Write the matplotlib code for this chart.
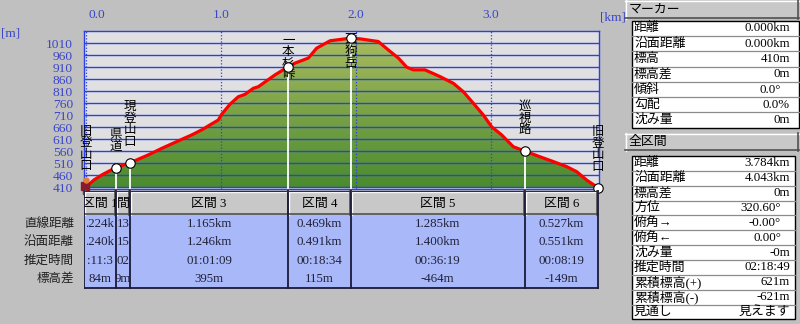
import numpy as np
import matplotlib
matplotlib.use("Agg")
import matplotlib.pyplot as plt
from matplotlib import transforms
from matplotlib.transforms import Bbox, TransformedBbox
from matplotlib.colors import LinearSegmentedColormap
from matplotlib.patches import Rectangle, PathPatch

plt.rcParams["font.family"] = ["Liberation Serif", "Noto Sans CJK JP"]

# 断面プロファイル（水平距離 km / 標高 m）
DIST = [0.000, 0.060, 0.118, 0.222, 0.328, 0.464, 0.563, 0.661, 0.785, 0.859,
        0.921, 0.982, 1.007, 1.069, 1.130, 1.180, 1.241, 1.279, 1.402, 1.500,
        1.550, 1.649, 1.710, 1.810, 1.921, 1.962, 2.032, 2.167, 2.241, 2.316,
        2.378, 2.427, 2.513, 2.624, 2.723, 2.797, 2.871, 2.945, 3.007, 3.081,
        3.167, 3.252, 3.365, 3.464, 3.563, 3.637, 3.711, 3.795]
ELEV = [410, 440, 461, 492, 512, 545, 572, 597, 628, 649,
        670, 690, 714, 756, 787, 797, 822, 829, 878, 912,
        927, 948, 989, 1020, 1028, 1031, 1028, 1017, 982, 948,
        910, 899, 899, 871, 843, 808, 760, 711, 662, 628,
        579, 561, 537, 517, 496, 475, 440, 408]

MARKER_DIST = [0.000, 0.222, 0.328, 1.500, 1.962, 3.252, 3.795]
MARKER_NAMES = ["旧登山口", "県道", "現登山口", "一本杉峠", "天狗岳", "巡視路", "旧登山口"]

X_TICKS = [0, 1, 2, 3]
X_TICK_LABELS = ["0.0", "1.0", "2.0", "3.0"]
Y_TICKS = list(range(410, 1011, 50))

# 区間 1, 2 はセル幅が狭く、見えている部分のみ
SECTIONS = ["区間 1", "間", "区間 3", "区間 4", "区間 5", "区間 6"]
ROW_LABELS = ["直線距離", "沿面距離", "推定時間", "標高差"]
SEC_STRAIGHT = [".224k", "13", "1.165km", "0.469km", "1.285km", "0.527km"]
SEC_SURFACE = [".240k", "15", "1.246km", "0.491km", "1.400km", "0.551km"]
SEC_TIME = [":11:3", "02", "01:01:09", "00:18:34", "00:36:19", "00:08:19"]
SEC_DIFF = ["84m", "9m", "395m", "115m", "-464m", "-149m"]

MARKER_LABELS = ["距離", "沿面距離", "標高", "標高差", "傾斜", "勾配", "沈み量"]
MARKER_VALUES = ["0.000km", "0.000km", "410m", "0m", "0.0°", "0.0%", "0m"]
TOTAL_LABELS = ["距離", "沿面距離", "標高差", "方位", "俯角→", "俯角←", "沈み量",
                "推定時間", "累積標高(+)", "累積標高(-)", "見通し"]
TOTAL_VALUES = ["3.784km", "4.043km", "0m", "320.60°", "-0.00°", "0.00°", "-0m",
                "02:18:49", "621m", "-621m", "見えます"]

W, H = 800, 324
WIN_BG = "#c0c0c0"
PLOT_BG = "#e0e0e0"
GRID = "#2a40e6"
AXIS_TXT = "#3a46c8"
CELL_BLUE = "#a8b8f8"
CELL_TXT = "#202038"
FS = 9.3

fig = plt.figure(figsize=(W / 100, H / 100), dpi=100)
fig.patch.set_facecolor(WIN_BG)


def frac(x0, y0, x1, y1):
    # ピクセル座標（左上原点）→ figure 座標
    return [x0 / W, 1 - y1 / H, (x1 - x0) / W, (y1 - y0) / H]


# UI 用の全面 axes（ピクセル座標）
ui = fig.add_axes([0, 0, 1, 1])
ui.set_xlim(0, W)
ui.set_ylim(H, 0)
ui.axis("off")


def button(a, x0, y0, x1, y1, sx=1.0):
    # sx: x 方向 1px あたりのデータ量
    a.add_patch(Rectangle((x0, y0), x1 - x0, y1 - y0, fc="#c8c8c8", ec="none", zorder=2))
    a.plot([x0, x1], [y0 + 0.8, y0 + 0.8], color="white", lw=1, zorder=3)
    a.plot([x0 + 1.2 * sx, x0 + 1.2 * sx], [y0, y1], color="white", lw=1, zorder=3)
    a.plot([x0, x1], [y1 - 0.7, y1 - 0.7], color="#505050", lw=1.2, zorder=3)
    a.plot([x1 - 0.7 * sx, x1 - 0.7 * sx], [y0, y1], color="#505050", lw=1.2, zorder=3)


# --- プロファイル ---
ax = fig.add_axes(frac(84, 30.7, 599, 188.5))
xl = (-0.0127, 3.802)
yl = (405, 1062)
ax.set_xlim(*xl)
ax.set_ylim(*yl)
ax.set_facecolor(PLOT_BG)

poly = ax.fill_between(DIST, ELEV, yl[0], color="none", lw=0)
cmap = LinearSegmentedColormap.from_list("g", ["#4a8a2e", "#adbe60"])
grad = np.linspace(0, 1, 256).reshape(-1, 1)
im = ax.imshow(grad, extent=[xl[0], xl[1], yl[0], yl[1]], origin="lower",
               aspect="auto", cmap=cmap, zorder=0.5)
clip = PathPatch(poly.get_paths()[0], transform=ax.transData, fc="none", ec="none")
ax.add_patch(clip)
im.set_clip_path(clip)

ax.set_axisbelow(False)
ax.set_yticks(Y_TICKS)
ax.set_xticks(X_TICKS)
ax.set_xticklabels(X_TICK_LABELS)
ax.yaxis.grid(True, color=GRID, lw=1.0)
ax.xaxis.grid(True, color=GRID, lw=0.9, ls=(0, (1, 1.5)))
ax.tick_params(axis="y", length=0, pad=8, labelsize=9.7, labelcolor=AXIS_TXT)
ax.tick_params(axis="x", length=0, pad=7, labelsize=9.6, labelcolor=AXIS_TXT,
               top=True, labeltop=True, bottom=False, labelbottom=False)
lbl0 = ax.get_xticklabels()[0]
lbl0.set_ha("left")
lbl0.set_transform(lbl0.get_transform() + transforms.Affine2D().translate(3, 0))
for s in ax.spines.values():
    s.set_color(GRID)
    s.set_linewidth(1.0)

mk_elev = np.interp(MARKER_DIST, DIST, ELEV)
for d, e in zip(MARKER_DIST[1:-1], mk_elev[1:-1]):
    ax.plot([d, d], [yl[0], e], color="white", lw=1.3, zorder=2.7)

ax.plot(DIST, ELEV, color="#ff0000", lw=2.3, zorder=3, solid_joinstyle="round")
ax.plot(MARKER_DIST[1:], mk_elev[1:], "o", ms=6.8, mfc="white", mec="black",
        mew=0.8, zorder=4, clip_on=False)


def off(dx, dy):
    return transforms.offset_copy(ax.transData, fig=fig, x=dx, y=dy, units="dots")


# ハイカーのアイコン（始点）
x0, e0 = MARKER_DIST[0], mk_elev[0]
ax.plot([x0], [e0], "s", ms=3.2, color="#604020", transform=off(-1, -5), clip_on=False, zorder=5)
ax.plot([x0], [e0], "s", ms=5.5, color="#8b1a2a", transform=off(-1, 1), clip_on=False, zorder=5)
ax.plot([x0], [e0], "o", ms=3.6, color="#e08040", transform=off(0, 7), clip_on=False, zorder=5)

# 地点名（縦書き）
top_tr = transforms.blended_transform_factory(ax.transData, ax.transAxes)
for name, d, e in zip(MARKER_NAMES, MARKER_DIST, mk_elev):
    s = "\n".join(name)
    if e > 850:
        ax.text(d, 1 - 4 / 157.8, s, transform=top_tr, ha="center", va="top",
                fontsize=9, linespacing=0.95, color="black", zorder=3.5, clip_on=False)
    else:
        ax.text(d, e, s, transform=off(0, 15), ha="center", va="bottom",
                fontsize=9, linespacing=0.95, color="black", zorder=3.5, clip_on=False)

ui.text(600, 17, "[km]", color=AXIS_TXT, fontsize=9.6, ha="left", va="center")
ui.text(1, 33, "[m]", color=AXIS_TXT, fontsize=9.6, ha="left", va="center")

# --- 区間テーブル ---
tab = fig.add_axes(frac(84, 190.5, 599, 289))
tab.set_xlim(*xl)
tab.set_ylim(289, 190.5)
tab.axis("off")
PX = (xl[1] - xl[0]) / 515.0
bounds = [xl[0]] + MARKER_DIST[1:]
HEAD_T, HEAD_B, BODY_B = 191, 215, 288
row_y = [224, 242.4, 260.6, 279]
rows = [SEC_STRAIGHT, SEC_SURFACE, SEC_TIME, SEC_DIFF]


def cell_box(a, b, y0, y1):
    return TransformedBbox(Bbox([[a, y0], [b, y1]]), tab.transData)


tab.add_patch(Rectangle((bounds[0], HEAD_B), bounds[-1] - bounds[0], BODY_B - HEAD_B,
                        fc=CELL_BLUE, ec="none", zorder=1))
for i, sec in enumerate(SECTIONS):
    a, b = bounds[i], bounds[i + 1]
    button(tab, a, HEAD_T, b, HEAD_B - 0.5, sx=PX)
    t = tab.text((a + b) / 2, 203.5, sec, ha="center", va="center", fontsize=FS,
                 color="black", zorder=4, clip_on=True)
    t.set_clip_box(cell_box(a, b, HEAD_T, HEAD_B))
    for vals, y in zip(rows, row_y):
        t = tab.text((a + b) / 2, y, vals[i], ha="center", va="center", fontsize=FS,
                     color=CELL_TXT, zorder=4, clip_on=True)
        t.set_clip_box(cell_box(a, b, HEAD_B, BODY_B))
for bx in bounds:
    tab.plot([bx, bx], [HEAD_T, BODY_B], color="#1a1a3a", lw=1.3, zorder=5)
tab.plot([bounds[0], bounds[-1]], [HEAD_T, HEAD_T], color="#303030", lw=0.8, zorder=5)
tab.plot([bounds[0], bounds[-1]], [BODY_B, BODY_B], color="#1a1a3a", lw=1.3, zorder=5)

for lab, y in zip(ROW_LABELS, row_y):
    ui.text(74, y, lab, ha="right", va="center", fontsize=9, color="#202020")


# --- 右パネル ---
def info_table(y0, row_h, x1, labels, values):
    n = len(labels)
    ui.add_patch(Rectangle((632, y0), x1 - 632, row_h * n, fc="white", ec="black",
                           lw=1.0, zorder=2))
    for k in range(1, n):
        yy = y0 + k * row_h
        ui.plot([632, x1], [yy, yy], color="#8c8c8c", lw=0.9, zorder=3)
    for k, (lab, val) in enumerate(zip(labels, values)):
        yc = y0 + (k + 0.5) * row_h
        ui.text(634, yc, lab, ha="left", va="center", fontsize=FS, color="black", zorder=4)
        xr = 781 if val.endswith("°") else 790
        ui.text(xr, yc, val, ha="right", va="center", fontsize=FS, color="black", zorder=4)


button(ui, 625, 0, 799, 18.5)
ui.text(629, 9.5, "マーカー", ha="left", va="center", fontsize=FS, color="black", zorder=4)
info_table(20.7, 15.29, 799, MARKER_LABELS, MARKER_VALUES)

button(ui, 625, 132.7, 799, 150.5)
ui.text(629, 141.6, "全区間", ha="left", va="center", fontsize=FS, color="black", zorder=4)
info_table(156, 14.85, 795, TOTAL_LABELS, TOTAL_VALUES)

fig.savefig("out.png", dpi=100, facecolor=WIN_BG)
